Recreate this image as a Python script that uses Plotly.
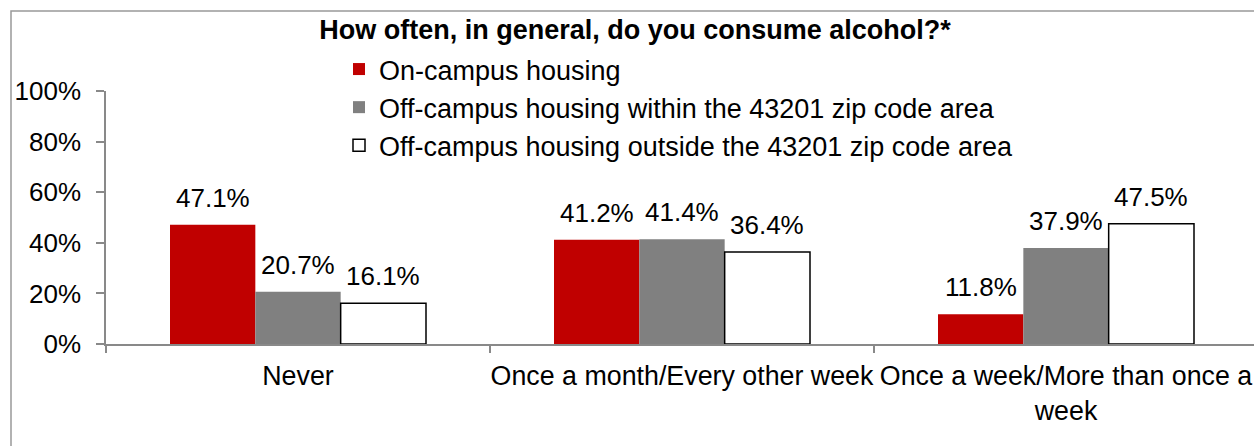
import plotly.graph_objects as go

categories = ["Never", "Once a month/Every other week", "Once a week/More than once a<br>week"]
series_names = [
    "On-campus housing",
    "Off-campus housing within the 43201 zip code area",
    "Off-campus housing outside the 43201 zip code area",
]
on_campus = [0.471, 0.412, 0.118]
off_within = [0.207, 0.414, 0.379]
off_outside = [0.161, 0.364, 0.475]
y_ticks = [0, 0.2, 0.4, 0.6, 0.8, 1.0]
y_tick_labels = ["0%", "20%", "40%", "60%", "80%", "100%"]

FONT = "Liberation Sans, Arial, sans-serif"
FS = 26
FS_X = 26.8
FS_LEG = 27

W, H = 1254, 446
ML, MR, MT, MB = 106, 0, 91, 102
plot_w = W - ML - MR
plot_h = H - MT - MB

fills = ["#C00000", "#808080", "#FFFFFF"]
lines = [("#C00000", 0), ("#808080", 0), ("#000000", 1.5)]
all_vals = [on_campus, off_within, off_outside]

fig = go.Figure()
for i, (name, vals) in enumerate(zip(series_names, all_vals)):
    fig.add_trace(go.Bar(
        x=categories, y=vals, name=name,
        marker=dict(color=fills[i], line=dict(color=lines[i][0], width=lines[i][1])),
        legendgroup=f"g{i}",
    ))

# value labels above bars
bargap = 1/3
bw = (1 - bargap) / 3
for i, vals in enumerate(all_vals):
    for j, v in enumerate(vals):
        fig.add_annotation(
            x=j + (i - 1) * bw, y=v, xref="x", yref="y",
            text=f"{v*100:.1f}%", showarrow=False,
            yanchor="bottom", yshift=10,
            font=dict(family=FONT, size=FS, color="#000000"),
        )

# chart border
fig.add_shape(
    type="rect", xref="paper", yref="paper",
    x0=(11 - ML) / plot_w, x1=(W + 10 - ML) / plot_w,
    y0=(MT + plot_h - (H + 20)) / plot_h, y1=(MT + plot_h - 11) / plot_h,
    line=dict(color="#999999", width=1.5), fillcolor="rgba(0,0,0,0)", layer="below",
)

x_end = -0.5 + plot_w / ((W + 4 - ML) / 3)

fig.update_layout(
    width=W, height=H,
    margin=dict(l=ML, r=MR, t=MT, b=MB, autoexpand=False),
    paper_bgcolor="white", plot_bgcolor="white",
    barmode="group", bargap=bargap, bargroupgap=0,
    font=dict(family=FONT, size=FS, color="#000000"),
    title=dict(
        text="<b>How often, in general, do you consume alcohol?*</b>",
        x=635 / W, xref="container", xanchor="center",
        y=1 - 30 / H, yref="container", yanchor="middle",
        font=dict(family=FONT, size=FS_LEG, color="#000000"),
    ),
    legend=dict(
        x=(339 - ML) / plot_w, xref="paper", xanchor="left",
        y=(MT + plot_h - 45) / plot_h, yref="paper", yanchor="top",
        bgcolor="rgba(0,0,0,0)", borderwidth=0,
        font=dict(family=FONT, size=FS_LEG, color="#000000"),
        tracegroupgap=0, itemwidth=30,
    ),
    xaxis=dict(
        range=[-0.5, x_end], showgrid=False, zeroline=False,
        showline=True, linecolor="#898989", linewidth=1.5,
        ticks="outside", tickson="boundaries", ticklen=7, tickcolor="#898989", tickwidth=1.5,
        tickfont=dict(family=FONT, size=FS_X, color="#000000"),
        tickangle=0, automargin=False, ticklabelstandoff=7,
    ),
    yaxis=dict(
        range=[0, 1], showgrid=False, zeroline=False,
        showline=True, linecolor="#898989", linewidth=1.5,
        ticks="outside", ticklen=8, tickcolor="#898989", tickwidth=1.5,
        tickvals=y_ticks, ticktext=y_tick_labels,
        tickfont=dict(family=FONT, size=FS, color="#000000"),
        ticklabelstandoff=10, automargin=False,
    ),
    showlegend=True,
)

fig.write_html(
    "out.html",
    config={"displayModeBar": False},
    post_script="document.body.style.margin='0';",
)
